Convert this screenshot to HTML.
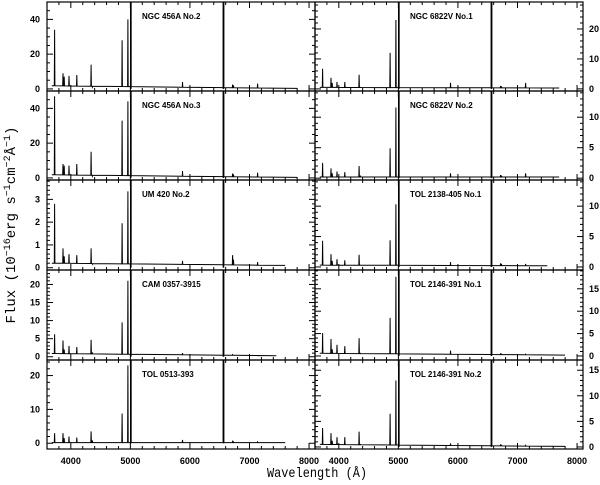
<!DOCTYPE html>
<html><head><meta charset="utf-8"><style>
html,body{margin:0;padding:0;background:#fff;}
svg{display:block;font-family:"Liberation Sans",sans-serif;}
.tl{font-size:9px;font-weight:bold;fill:#000;}
.pl{font-size:8px;font-weight:bold;fill:#000;font-family:"Liberation Sans",sans-serif;}
.at{font-family:"Liberation Mono",monospace;font-size:14px;fill:#000;}
</style></head><body>
<svg id="chart" width="600" height="485" viewBox="0 0 600 485" xmlns="http://www.w3.org/2000/svg">
<text class="at" x="267" y="477" textLength="100" lengthAdjust="spacingAndGlyphs">Wavelength (Å)</text>
<text class="at" transform="translate(15,225) rotate(-90)" text-anchor="middle">Flux (10<tspan dy="-5" font-size="10">−16</tspan><tspan dy="5">erg s</tspan><tspan dy="-5" font-size="10">−1</tspan><tspan dy="5">cm</tspan><tspan dy="-5" font-size="10">−2</tspan><tspan dy="5">Å</tspan><tspan dy="-5" font-size="10">−1</tspan><tspan dy="5">)</tspan></text>
</svg>
<script>
const lineWaves=[3727,3869,3889,3970,4101,4340,4363,4861,4959,5007,5876,6563,6717,6731,7136];
const panelNames=["NGC 456A No.2","NGC 456A No.3","UM 420 No.2","CAM 0357-3915","TOL 0513-393","NGC 6822V No.1","NGC 6822V No.2","TOL 2138-405 No.1","TOL 2146-391 No.1","TOL 2146-391 No.2"];
const peaks0=[34,9,7,7.5,8,14,1,28,40,999,4,999,2.5,2,3];
const peaks1=[47,8,7,7,8,15,1,33,44,999,4,999,2.5,2,3];
const peaks2=[2.8,0.85,0.5,0.6,0.55,0.85,0.15,1.95,3.35,999,0.3,999,0.55,0.35,0.25];
const peaks3=[6.2,4.5,2,3,2.7,4.7,1,9.5,21,999,1,999,0.6,0.4,0.3];
const peaks4=[3,3,1.5,2,1.7,3.5,0.8,8.8,23,999,1,999,0.5,0.4,0.4];
const peaks5=[6.7,3.7,2,2.3,2.3,4.7,0.5,12,23,999,2,999,1,0.8,2];
const peaks6=[2.5,1.6,0.8,1.1,1,2,0.3,4.9,11.6,999,0.8,999,0.5,0.4,0.8];
const peaks7=[4.3,2.1,1,1.3,1.1,2,0.3,4.4,10.3,999,0.8,999,0.6,0.5,0.5];
const peaks8=[5.1,3.8,1.5,2.5,2.2,4,0.6,8.5,17.7,999,1.2,999,0.6,0.4,0.4];
const peaks9=[3.7,2.7,1.2,1.9,1.9,3,0.5,6.5,13,999,0.7,999,0.5,0.3,0.3];
const allPeaks=[peaks0,peaks1,peaks2,peaks3,peaks4,peaks5,peaks6,peaks7,peaks8,peaks9];
const contStart=[1.8,1.8,0.2,0.9,0.2,0.5,0.2,0.3,0.6,0.5];
const contEnd=[0.3,0.3,0.1,0.3,0.2,0.3,0.2,0.2,0.2,0.1];
const waveEnd=[7800,7800,7600,7450,7600,7700,7700,7500,7800,7800];
const yMin=[-1.2,-1.2,-0.1,-0.9,-1.7,-0.7,-0.3,-0.5,-0.9,-0.4];
const yMax=[50,50,3.85,24,24.6,29,14.3,14.3,19.2,17];
const yTicks=[[0,20,40],[0,20,40],[0,1,2,3],[0,5,10,15,20],[0,10,20],[0,10,20],[0,5,10],[0,5,10],[0,5,10,15],[0,5,10,15]];
const yMinor=[5,5,0.2,1,2,2,1,1,1,1];
const xTicks=[4000,5000,6000,7000,8000];

const NS="http://www.w3.org/2000/svg";
const svg=document.getElementById('chart');
const rowTops=[2,91,180,270,360],rowBottom=449;
const colX=[47,315],panelW=268;
const X0=3600,X1=8100;
function mk(t,a,parent){const e=document.createElementNS(NS,t);for(const k in a)e.setAttribute(k,a[k]);(parent||svg).appendChild(e);return e;}

for(let p=0;p<10;p++){
  const col=p<5?0:1,row=p%5;
  const left=colX[col],top=rowTops[row],bot=row<4?rowTops[row+1]:rowBottom,h=bot-top;
  const xs=w=>left+(w-X0)/(X1-X0)*panelW;
  const ys=v=>bot-(v-yMin[p])/(yMax[p]-yMin[p])*h;
  const g=mk('g',{});
  
  
  const cp=mk('clipPath',{id:'cp'+p},g);mk('rect',{x:left,y:top,width:panelW,height:h},cp);
  const pk=allPeaks[p];const pts=[];
  const w0=3680,w1=waveEnd[p];
  const cont=w=>contStart[p]+(contEnd[p]-contStart[p])*(w-w0)/(w1-w0);
  pts.push([w0,cont(w0)]);
  lineWaves.forEach((lw,i)=>{
    if(lw>w1)return;
    pts.push([lw-5,cont(lw)]);pts.push([lw,pk[i]]);pts.push([lw+5,cont(lw)]);
  });
  pts.push([w1,cont(w1)]);
  const sp=mk('polyline',{points:pts.map(q=>xs(q[0]).toFixed(1)+','+ys(q[1]).toFixed(1)).join(' '),fill:'none',stroke:'#000','stroke-width':1,'clip-path':'url(#cp'+p+')'},g);
  
  
  [5007,6563].forEach(lw=>{const l=mk('line',{x1:xs(lw),x2:xs(lw),y1:top,y2:ys(0),stroke:'#000','stroke-width':1.6},g);
    
    });
  const fr=mk('rect',{x:left,y:top,width:panelW,height:h,fill:'none',stroke:'#000','stroke-width':1.2},g);
  
  
  for(let w=3600;w<=8100;w+=200){
    const major=w%1000===0,len=major?6:3;
    mk('line',{x1:xs(w),x2:xs(w),y1:top,y2:top+len,stroke:'#000','stroke-width':1},g);
    mk('line',{x1:xs(w),x2:xs(w),y1:bot,y2:bot-len,stroke:'#000','stroke-width':1},g);
  }
  const ax=col===0?left:left+panelW,dir=col===0?1:-1;
  const oth=col===0?left+panelW:left;
  for(let v=Math.ceil(yMin[p]/yMinor[p])*yMinor[p];v<=yMax[p]+1e-9;v+=yMinor[p]){
    const major=yTicks[p].some(t=>Math.abs(t-v)<1e-6),len=major?6:3;
    mk('line',{x1:ax,x2:ax+dir*len,y1:ys(v),y2:ys(v),stroke:'#000','stroke-width':1},g);
    mk('line',{x1:oth,x2:oth-dir*len,y1:ys(v),y2:ys(v),stroke:'#000','stroke-width':1},g);
  }
  yTicks[p].forEach(v=>{
    const t=mk('text',{class:'tl',x:col===0?ax-7:ax+6,y:ys(v)+3,'text-anchor':col===0?'end':'start'},g);
    t.textContent=v;
    
    
  });
  if(row===4){
    xTicks.forEach(w=>{
      const t=mk('text',{class:'tl',x:xs(w),y:bot+15,'text-anchor':'middle'},g);
      t.textContent=w;
      
      
    });
  }
  const lb=mk('text',{class:'pl',x:left+95,y:top+17},g);
  lb.textContent=panelNames[p];
  
  
}
</script>
</body></html>
